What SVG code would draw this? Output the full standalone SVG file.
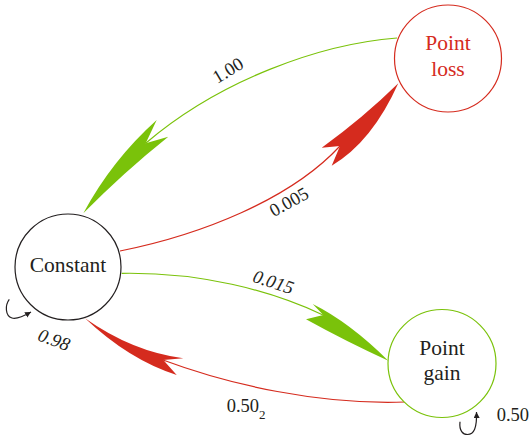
<svg xmlns="http://www.w3.org/2000/svg" width="532" height="436" viewBox="0 0 532 436">
<style>
.node{fill:#fff;stroke-width:1.2}
.lbl{font-family:"Liberation Serif",serif;font-size:21.5px;text-anchor:middle;fill:#231f20}
.elbl{font-family:"Liberation Serif",serif;font-size:18.5px;fill:#231f20}
.it{font-style:italic}
.g{stroke:#7ac20a;fill:none;stroke-width:1.2}
.r{stroke:#d52b1e;fill:none;stroke-width:1.2}
.gh{fill:#7ac20a;stroke:none}
.rh{fill:#d52b1e;stroke:none}
.loop{stroke:#231f20;fill:none;stroke-width:1.2}
</style>
<defs>
<marker id="ah" markerUnits="userSpaceOnUse" markerWidth="8" markerHeight="8" refX="6" refY="3" orient="auto">
<path d="M0,0 L6,3 L0,6 Z" fill="#231f20"/>
</marker>
</defs>
<g id="connectors">
<g id="e-loss-constant">
<path class="g" d="M397,38 C320,44 220,80 146,143"/>
<path class="gh" d="M156.7,120 Q112,160 83.3,213.3 Q124,172 168.3,136.7 L145.7,143.3 Z"/>
<text class="elbl" text-anchor="middle" transform="translate(228,70.5) rotate(-31)" y="6">1.00</text>
</g>
<g id="e-constant-loss">
<path class="r" d="M120,251 C200,235 290,200 340,146"/>
<path class="rh" d="M321.7,147.7 Q363,118 398.3,83.3 Q372,142 331.7,165.7 L340,146 Z"/>
<text class="elbl" text-anchor="middle" transform="translate(289,202) rotate(-29)" y="6">0.005</text>
</g>
<g id="e-constant-gain">
<path class="g" d="M121.7,273.3 C200,272 270,290 323,315"/>
<path class="gh" d="M312.7,304 Q349.5,322.3 388.3,360.7 Q347,342 306,319.3 L323.3,315 Z"/>
<text class="elbl it" text-anchor="middle" transform="translate(273.3,282.3) rotate(18)" y="6">0.015</text>
</g>
<g id="e-gain-constant">
<path class="r" d="M405,402 C320,405 230,385 163,360"/>
<path class="rh" d="M183.3,358.3 Q132.4,351.7 85,318.3 Q129.2,360 176.7,375 L163.3,360 Z"/>
<text class="elbl" x="226.7" y="412.3">0.50<tspan font-size="13" dy="6.5">2</tspan></text>
</g>
<g id="e-constant-self">
<path class="loop" d="M9.3,299.3 C5,305 5,316 12,318 C17,319.5 24,316 31,312" marker-end="url(#ah)"/>
<text class="elbl it" text-anchor="middle" transform="translate(54,340) rotate(20)" y="6">0.98</text>
</g>
<g id="e-gain-self">
<path class="loop" d="M460,421.7 C459,431 463,434.5 467.5,434.5 C474,434.5 477,428 476.5,412" marker-end="url(#ah)"/>
<text class="elbl" x="496.7" y="420.5">0.50</text>
</g>
</g>
<g id="node-constant">
<circle class="node" cx="68" cy="267" r="53" stroke="#231f20"/>
<text class="lbl" x="68" y="272">Constant</text>
</g>
<g id="node-loss">
<circle class="node" cx="448" cy="58.5" r="53.5" stroke="#d52b1e"/>
<text class="lbl" x="448" y="50" style="fill:#d52b1e">Point</text>
<text class="lbl" x="448" y="76" style="fill:#d52b1e">loss</text>
</g>
<g id="node-gain">
<circle class="node" cx="442" cy="363.5" r="54" stroke="#7ac20a"/>
<text class="lbl" x="442" y="355">Point</text>
<text class="lbl" x="442" y="380">gain</text>
</g>
</svg>
